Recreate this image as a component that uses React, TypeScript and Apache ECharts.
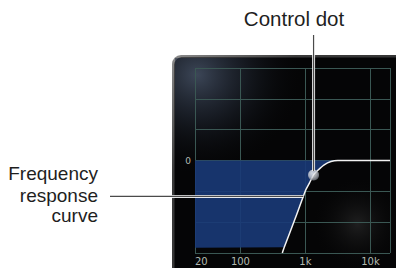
import React, { useEffect, useRef } from "react";
import * as echarts from "echarts";

// Frequency response (high-pass) curve, Hz / dB
const curveFreqs = [441, 472, 700, 1014, 1150, 1334, 1538, 1945, 2471, 3140, 20000];
const curveGains = [-18, -16.9, -11.2, -5.7, -4.4, -2.8, -1.95, -0.84, -0.2, 0, 0];
// Blue cut region: between 0 dB and the curve, floored at this level
const fillFloor = -17;
const fillStartFreq = 20;
// Control dot
const dotFreq = 1334;
const dotGain = -2.8;
// Axis ticks
const xTickValues = [20, 100, 1000, 10000];
const xTickLabels = ["20", "100", "1k", "10k"];
const yTickLabelValues = [0];
const yTickLabels = ["0"];

const gridColor = "#3a5753";
const labelColor = "#b2bab2";

export default function App() {
  const ref = useRef<HTMLDivElement>(null);
  useEffect(() => {
    if (!ref.current) return;
    const chart = echarts.init(ref.current, undefined, { renderer: "svg" });

    // polygon of the cut region: 0 dB line on top, curve / floor below
    const fillPoly: number[][] = [[fillStartFreq, 0], [fillStartFreq, fillFloor]];
    curveFreqs.forEach((f, i) => {
      const g = curveGains[i];
      if (g >= fillFloor && g < 0) fillPoly.push([f, g]);
    });
    const zeroIdx = curveGains.indexOf(0);
    fillPoly.push([curveFreqs[zeroIdx], 0]);
    const curve = curveFreqs.map((f, i) => [f, curveGains[i]]);

    const bg: any[] = [
      {
        type: "rect",
        z: -20,
        silent: true,
        shape: { x: 172, y: 55, width: 250, height: 240, r: 9 },
        style: {
          fill: new echarts.graphic.LinearGradient(0, 0, 1, 1, [
            { offset: 0, color: "#8c8c8c" },
            { offset: 0.25, color: "#3a3a3a" },
            { offset: 1, color: "#2a2a2a" },
          ]),
        },
      },
      {
        type: "rect",
        z: -19,
        silent: true,
        shape: { x: 174.5, y: 57.5, width: 250, height: 240, r: 7 },
        style: { fill: "#050506" },
      },
      {
        type: "rect",
        z: -18,
        silent: true,
        shape: { x: 175, y: 58, width: 221, height: 210 },
        style: {
          fill: new echarts.graphic.RadialGradient(0.1, 0.08, 0.5, [
            { offset: 0, color: "rgba(70,82,102,0.85)" },
            { offset: 0.4, color: "rgba(40,48,62,0.55)" },
            { offset: 1, color: "rgba(0,0,0,0)" },
          ]),
        },
      },
      {
        type: "rect",
        z: -18,
        silent: true,
        shape: { x: 300, y: 170, width: 96, height: 98 },
        style: {
          fill: new echarts.graphic.RadialGradient(0.6, 0.55, 0.5, [
            { offset: 0, color: "rgba(70,70,70,0.4)" },
            { offset: 1, color: "rgba(0,0,0,0)" },
          ]),
        },
      },
    ];

    const option: any = {
      animation: false,
      grid: { left: 195, top: 68, width: 195, height: 185, containLabel: false },
      xAxis: {
        type: "log",
        logBase: 10,
        min: 20,
        max: 20000,
        axisLine: { show: false },
        axisTick: { show: false },
        splitLine: { show: true, lineStyle: { color: gridColor, width: 1 } },
        axisLabel: {
          color: labelColor,
          fontFamily: "DejaVu Sans",
          fontSize: 10,
          margin: 3,
          alignMinLabel: "left",
          showMaxLabel: false,
          formatter: (v: number) => {
            const i = xTickValues.findIndex((t) => Math.abs(t - v) < 1e-6 * t);
            return i >= 0 ? xTickLabels[i] : "";
          },
        },
      },
      yAxis: {
        type: "value",
        min: -18,
        max: 18,
        interval: 6,
        axisLine: { show: false },
        axisTick: { show: false },
        splitLine: { show: true, lineStyle: { color: gridColor, width: 1 } },
        axisLabel: {
          color: labelColor,
          fontFamily: "DejaVu Sans",
          fontSize: 9,
          margin: 4,
          formatter: (v: number) => {
            const i = yTickLabelValues.indexOf(v);
            return i >= 0 ? yTickLabels[i] : "";
          },
        },
      },
      series: [
        {
          type: "custom",
          data: [0],
          silent: true,
          z: 1,
          renderItem: (_params: any, api: any) => ({
            type: "polygon",
            shape: { points: fillPoly.map((p) => api.coord(p)) },
            style: { fill: "#1a3a78", opacity: 0.9 },
          }),
        },
        {
          type: "line",
          data: curve,
          showSymbol: false,
          smooth: 0.2,
          z: 3,
          lineStyle: { color: "#f2f2f2", width: 1.5 },
        },
        {
          type: "scatter",
          data: [[dotFreq, dotGain]],
          symbolSize: 11,
          z: 5,
          itemStyle: {
            color: new echarts.graphic.RadialGradient(0.38, 0.35, 0.7, [
              { offset: 0, color: "#ffffff" },
              { offset: 0.55, color: "#c9ccd3" },
              { offset: 1, color: "#6d717b" },
            ]),
          },
        },
      ],
      graphic: bg,
    };
    chart.setOption(option);

    // Annotation leaders, anchored on data positions
    const dotPx = chart.convertToPixel({ gridIndex: 0 }, [dotFreq, dotGain]) as number[];
    const leaderGain = -7;
    let lf = curveFreqs[0];
    for (let i = 0; i < curveGains.length - 1; i++) {
      if (curveGains[i] <= leaderGain && curveGains[i + 1] >= leaderGain) {
        const t = (leaderGain - curveGains[i]) / (curveGains[i + 1] - curveGains[i]);
        lf = Math.pow(10, Math.log10(curveFreqs[i]) + t * (Math.log10(curveFreqs[i + 1]) - Math.log10(curveFreqs[i])));
        break;
      }
    }
    const curvePx = chart.convertToPixel({ gridIndex: 0 }, [lf, leaderGain]) as number[];

    const txt = (x: number, y: number, s: string, align: string, size: number) => ({
      type: "text",
      z: 100,
      x,
      y,
      style: {
        text: s,
        fill: "#1e1e1e",
        font: `${size}px "Liberation Sans", Arial, sans-serif`,
        align,
        verticalAlign: "middle",
      },
    });
    const leader = (x1: number, y1: number, x2: number, y2: number) => [
      {
        type: "line",
        z: 90,
        shape: { x1, y1, x2, y2 },
        style: { stroke: "rgba(255,255,255,0.9)", lineWidth: 3 },
      },
      {
        type: "line",
        z: 91,
        shape: { x1, y1, x2, y2 },
        style: { stroke: "#4a4a4a", lineWidth: 1.2 },
      },
    ];

    chart.setOption({
      graphic: [
        ...bg,
        ...leader(dotPx[0], 35, dotPx[0], dotPx[1] - 4),
        ...leader(110, curvePx[1], curvePx[0], curvePx[1]),
        txt(294, 18, "Control dot", "center", 20.5),
        txt(98, 173.5, "Frequency", "right", 19),
        txt(98, 195, "response", "right", 19),
        txt(98, 215, "curve", "right", 19),
      ],
    });

    return () => chart.dispose();
  }, []);
  return (
    <div
      ref={ref}
      style={{ position: "fixed", left: 0, top: 0, width: 396, height: 268, background: "#ffffff" }}
    />
  );
}
